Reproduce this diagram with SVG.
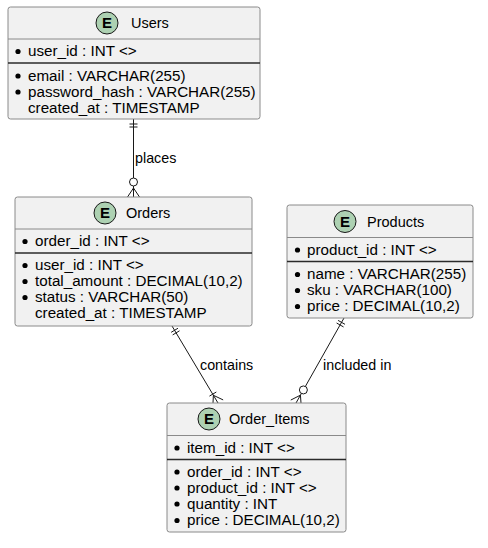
<svg xmlns="http://www.w3.org/2000/svg" width="488" height="548" viewBox="0 0 488 548">
<style>
  .box { fill: #F1F1F1; stroke: #8a8a8a; stroke-width: 1; }
  .hdr { stroke: #8a8a8a; stroke-width: 1; }
  .sep { stroke: #2a2a2a; stroke-width: 1.4; }
  .ecirc { fill: #ADD1B2; stroke: #181818; stroke-width: 1; }
  .eltr { font-family: "Liberation Sans", Arial, sans-serif; font-size: 15px; font-weight: bold; fill: #000; text-anchor: middle; }
  .title { font-family: "Liberation Sans", Arial, sans-serif; font-size: 14.5px; fill: #000; }
  .fld { font-family: "Liberation Sans", Arial, sans-serif; font-size: 15.2px; fill: #000; }
  .lbl { font-family: "Liberation Sans", Arial, sans-serif; font-size: 14.3px; fill: #000; }
  .dot { fill: #000; }
  .ln { stroke: #181818; stroke-width: 1; fill: none; }
  .oc { fill: #FFFFFF; stroke: #181818; stroke-width: 1; }
</style>

<g id="connectors">
  <!-- Users -> Orders : places -->
  <g id="edge-places">
    <line class="ln" x1="133.5" y1="119" x2="133.5" y2="178"/>
    <line class="ln" x1="129.5" y1="124" x2="137.5" y2="124"/>
    <line class="ln" x1="129.5" y1="127" x2="137.5" y2="127"/>
    <circle class="oc" cx="133.5" cy="182" r="4"/>
    <path class="ln" d="M133.5,186 L133.5,197 M133.5,188 L127.5,197 M133.5,188 L139.5,197"/>
    <text class="lbl" x="135" y="163">places</text>
  </g>
  <!-- Orders -> Order_Items : contains -->
  <g id="edge-contains">
    <line class="ln" x1="172" y1="326" x2="218" y2="403"/>
    <line class="ln" x1="171.13" y1="332.34" x2="177.99" y2="328.24"/>
    <line class="ln" x1="172.67" y1="334.92" x2="179.53" y2="330.82"/>
    <line class="ln" x1="209.44" y1="396.11" x2="216.30" y2="392.01"/>
    <path class="ln" d="M213.38,395.27 L212.85,406.08 M213.38,395.27 L223.15,399.92"/>
    <text class="lbl" x="200" y="370">contains</text>
  </g>
  <!-- Products -> Order_Items : included in -->
  <g id="edge-included">
    <line class="ln" x1="344" y1="318" x2="305.35" y2="386.46"/>
    <line class="ln" x1="338.06" y1="320.38" x2="345.02" y2="324.32"/>
    <line class="ln" x1="336.59" y1="323.0" x2="343.55" y2="326.94"/>
    <circle class="oc" cx="303.38" cy="389.94" r="4"/>
    <path class="ln" d="M301.41,393.42 L296,403 M300.43,395.16 L301.23,405.95 M300.43,395.16 L290.77,400.05"/>
    <text class="lbl" x="323" y="370">included in</text>
  </g>
</g>

<g id="node-users">
  <rect class="box" x="8" y="7" width="252" height="112" rx="2.5"/>
  <circle class="ecirc" cx="107" cy="23" r="11"/>
  <text class="eltr" x="107" y="28.3">E</text>
  <text class="title" x="131" y="28">Users</text>
  <line class="hdr" x1="8" y1="39" x2="260" y2="39"/>
  <circle class="dot" cx="18" cy="51.5" r="2.6"/>
  <text class="fld" x="28" y="56">user_id : INT &lt;&gt;</text>
  <line class="sep" x1="8" y1="63" x2="260" y2="63"/>
  <circle class="dot" cx="18" cy="76" r="2.6"/>
  <text class="fld" x="28" y="80.5">email : VARCHAR(255)</text>
  <circle class="dot" cx="18" cy="92" r="2.6"/>
  <text class="fld" x="28" y="96.5">password_hash : VARCHAR(255)</text>
  <text class="fld" x="28" y="112.5">created_at : TIMESTAMP</text>
</g>

<g id="node-orders">
  <rect class="box" x="15" y="197" width="237" height="129" rx="2.5"/>
  <circle class="ecirc" cx="105" cy="213" r="11"/>
  <text class="eltr" x="105" y="218.3">E</text>
  <text class="title" x="126" y="218">Orders</text>
  <line class="hdr" x1="15" y1="229" x2="252" y2="229"/>
  <circle class="dot" cx="25" cy="241.5" r="2.6"/>
  <text class="fld" x="35" y="246">order_id : INT &lt;&gt;</text>
  <line class="sep" x1="15" y1="253" x2="252" y2="253"/>
  <circle class="dot" cx="25" cy="265.5" r="2.6"/>
  <text class="fld" x="35" y="270">user_id : INT &lt;&gt;</text>
  <circle class="dot" cx="25" cy="281.5" r="2.6"/>
  <text class="fld" x="35" y="286">total_amount : DECIMAL(10,2)</text>
  <circle class="dot" cx="25" cy="297.5" r="2.6"/>
  <text class="fld" x="35" y="302">status : VARCHAR(50)</text>
  <text class="fld" x="35" y="318">created_at : TIMESTAMP</text>
</g>

<g id="node-products">
  <rect class="box" x="287" y="205" width="186" height="113" rx="2.5"/>
  <circle class="ecirc" cx="345" cy="221.5" r="11"/>
  <text class="eltr" x="345" y="226.8">E</text>
  <text class="title" x="367" y="226.5">Products</text>
  <line class="hdr" x1="287" y1="237.5" x2="473" y2="237.5"/>
  <circle class="dot" cx="297.5" cy="250" r="2.6"/>
  <text class="fld" x="307" y="254.5">product_id : INT &lt;&gt;</text>
  <line class="sep" x1="287" y1="261.5" x2="473" y2="261.5"/>
  <circle class="dot" cx="297.5" cy="274.5" r="2.6"/>
  <text class="fld" x="307" y="279">name : VARCHAR(255)</text>
  <circle class="dot" cx="297.5" cy="290.5" r="2.6"/>
  <text class="fld" x="307" y="295">sku : VARCHAR(100)</text>
  <circle class="dot" cx="297.5" cy="306.5" r="2.6"/>
  <text class="fld" x="307" y="311">price : DECIMAL(10,2)</text>
</g>

<g id="node-order-items">
  <rect class="box" x="167" y="403" width="179" height="129" rx="2.5"/>
  <circle class="ecirc" cx="209" cy="419" r="11"/>
  <text class="eltr" x="209" y="424.3">E</text>
  <text class="title" x="229" y="424">Order_Items</text>
  <line class="hdr" x1="167" y1="435.5" x2="346" y2="435.5"/>
  <circle class="dot" cx="177" cy="448" r="2.6"/>
  <text class="fld" x="187" y="452.5">item_id : INT &lt;&gt;</text>
  <line class="sep" x1="167" y1="459.5" x2="346" y2="459.5"/>
  <circle class="dot" cx="177" cy="472" r="2.6"/>
  <text class="fld" x="187" y="476.5">order_id : INT &lt;&gt;</text>
  <circle class="dot" cx="177" cy="488" r="2.6"/>
  <text class="fld" x="187" y="492.5">product_id : INT &lt;&gt;</text>
  <circle class="dot" cx="177" cy="504" r="2.6"/>
  <text class="fld" x="187" y="508.5">quantity : INT</text>
  <circle class="dot" cx="177" cy="520.5" r="2.6"/>
  <text class="fld" x="187" y="525">price : DECIMAL(10,2)</text>
</g>
</svg>
